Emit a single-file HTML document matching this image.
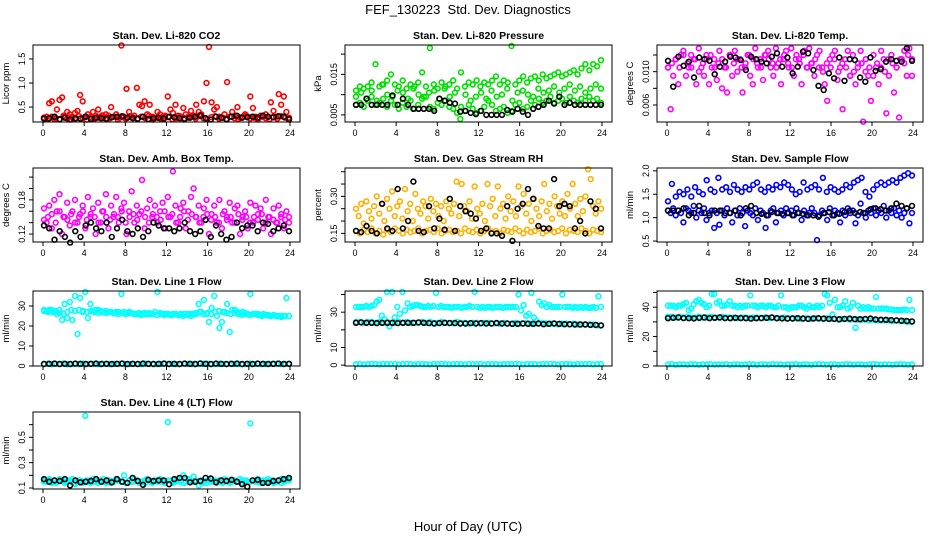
<!DOCTYPE html>
<html><head><meta charset="utf-8"><style>
html,body{margin:0;padding:0;background:#fff;}
svg{display:block;font-family:"Liberation Sans",Arial,sans-serif;}
</style></head><body>
<svg id="chart" width="936" height="540" viewBox="0 0 936 540">
<rect x="0" y="0" width="936" height="540" fill="#fff"/>
<text x="468" y="14" text-anchor="middle" font-size="13">FEF_130223&#160; Std. Dev. Diagnostics</text>
<text x="468" y="531" text-anchor="middle" font-size="13">Hour of Day (UTC)</text>
</svg>
<script>
const xTicks=[0,4,8,12,16,20,24];
const xTickLabels=["0","4","8","12","16","20","24"];
// Panel 1 CO2
const co2Red=[0.28,0.3,0.58,0.62,0.25,0.45,0.65,0.7,0.3,0.4,0.35,0.28,0.38,0.42,0.75,0.62,0.3,0.35,0.28,0.4,0.32,0.45,0.3,0.28,0.35,0.32,0.5,0.3,0.35,0.28,1.78,0.3,0.88,0.4,0.3,0.32,0.9,0.55,0.52,0.62,0.35,0.55,0.3,0.28,0.4,0.35,0.3,0.32,0.72,0.45,0.38,0.55,0.32,0.3,0.48,0.35,0.3,0.42,0.32,0.55,0.4,0.35,0.62,1.0,1.75,0.6,0.45,0.5,0.3,0.28,0.35,1.02,0.3,0.4,0.32,0.5,0.28,0.3,0.35,0.3,0.72,0.48,0.3,0.28,0.32,0.3,0.35,0.3,0.6,0.42,0.3,0.77,0.55,0.72,0.4,0.28];
const co2RedBand=[0.28,0.25,0.3,0.27,0.24,0.32,0.26,0.29,0.25,0.31,0.27,0.24,0.3,0.26,0.28,0.33,0.25,0.27,0.3,0.24,0.29,0.26,0.31,0.28,0.25,0.3,0.27,0.32,0.24,0.28,0.26,0.3,0.29,0.25,0.27,0.31,0.24,0.28,0.3,0.26,0.33,0.27,0.25,0.29,0.31,0.26,0.28,0.24,0.3,0.27,0.25,0.29,0.32,0.26,0.28,0.24,0.3,0.27,0.25,0.29,0.26,0.31,0.28,0.24];
const co2Black=[0.26,0.27,0.3,0.25,0.28,0.24,0.27,0.26,0.3,0.25,0.28,0.27,0.26,0.29,0.3,0.31,0.28,0.27,0.26,0.3,0.25,0.27,0.28,0.26,0.3,0.29,0.27,0.26,0.28,0.3,0.32,0.27,0.24,0.3,0.28,0.25,0.3,0.32,0.28,0.29,0.3,0.28,0.32,0.3,0.29,0.31,0.3,0.25];
// Panel 2 Pressure
const presUpper=[0.011,0.012,0.0115,0.012,0.013,0.0175,0.012,0.0125,0.0135,0.015,0.0125,0.012,0.0135,0.0115,0.0125,0.012,0.013,0.0155,0.012,0.0215,0.0125,0.0115,0.013,0.012,0.0125,0.0135,0.0115,0.0155,0.012,0.013,0.0125,0.0135,0.012,0.013,0.0125,0.0135,0.0145,0.0125,0.0135,0.013,0.022,0.0125,0.0135,0.0145,0.013,0.014,0.0145,0.0135,0.015,0.014,0.0145,0.015,0.0155,0.0145,0.015,0.0155,0.016,0.015,0.0165,0.0175,0.016,0.0175,0.017,0.0185];
const presLower=[0.0075,0.008,0.007,0.0085,0.0095,0.0075,0.008,0.009,0.007,0.0085,0.0075,0.0065,0.008,0.007,0.0085,0.0065,0.0075,0.009,0.0095,0.007,0.0065,0.008,0.0075,0.0085,0.007,0.0065,0.0055,0.007,0.006,0.0075,0.0065,0.0055,0.006,0.007,0.0085,0.0075,0.006,0.0065,0.007,0.0055,0.006,0.0075,0.008,0.0065,0.007,0.0085,0.0075,0.009,0.008,0.0085,0.0095,0.008,0.0085,0.009,0.008,0.0095,0.0085,0.008,0.009,0.0085,0.0095,0.0085,0.009,0.008];
const presMid=[0.0095,0.0105,0.009,0.011,0.0085,0.0125,0.01,0.0095,0.011,0.0105,0.009,0.0115,0.01,0.0095,0.0105,0.011,0.009,0.0115,0.0095,0.0105,0.004,0.01,0.0085,0.0095,0.0105,0.009,0.011,0.0095,0.01,0.0115,0.0085,0.0105,0.011,0.01,0.0095,0.0115,0.0105,0.011,0.012,0.0105,0.0115,0.0125,0.011,0.012,0.0105,0.0115,0.0125,0.0115];
const presBlack=[0.0075,0.0075,0.009,0.0075,0.0075,0.0075,0.0075,0.0098,0.0075,0.009,0.0075,0.0065,0.0065,0.0065,0.0065,0.006,0.009,0.0085,0.008,0.0078,0.0058,0.006,0.0055,0.0052,0.006,0.005,0.005,0.005,0.005,0.0062,0.0058,0.0065,0.0058,0.005,0.0065,0.007,0.0075,0.0085,0.0078,0.0095,0.0075,0.008,0.0075,0.0075,0.0075,0.0075,0.0075,0.0075];
// Panel 3 Li-820 Temp
const tempMag=[0.0105,0.0055,0.0095,0.0115,0.0085,0.012,0.0125,0.0095,0.0105,0.012,0.0115,0.0085,0.0128,0.0105,0.0095,0.012,0.0085,0.0105,0.0115,0.009,0.0125,0.008,0.0105,0.0075,0.012,0.0095,0.0125,0.01,0.0115,0.0075,0.0105,0.012,0.0095,0.0085,0.0128,0.0105,0.0115,0.009,0.012,0.0125,0.0105,0.0095,0.0128,0.011,0.0085,0.0115,0.0125,0.0105,0.0128,0.0095,0.012,0.0115,0.0085,0.0125,0.0105,0.0128,0.011,0.0095,0.012,0.0125,0.0105,0.0085,0.0065,0.0115,0.012,0.0125,0.009,0.0105,0.0055,0.0115,0.0125,0.0095,0.012,0.0085,0.011,0.0125,0.004,0.0115,0.0095,0.0065,0.012,0.0105,0.0085,0.0125,0.0115,0.005,0.0095,0.012,0.0075,0.0105,0.0045,0.0115,0.0125,0.0095,0.0128,0.0095];
const tempMagBand=[0.0105,0.011,0.0115,0.0105,0.012,0.011,0.0105,0.0115,0.01,0.011,0.0115,0.012,0.0105,0.011,0.0115,0.0105,0.012,0.011,0.0115,0.0105,0.011,0.012,0.0115,0.011,0.0105,0.012,0.0115,0.011,0.0105,0.0115,0.012,0.011,0.0105,0.0115,0.011,0.012,0.0105,0.011,0.0115,0.0105,0.01,0.011,0.0105,0.0115,0.01,0.011,0.0105,0.0095,0.01,0.0105,0.011,0.01,0.0105,0.0095,0.011,0.0105,0.01,0.0115,0.011,0.0105,0.0115,0.011,0.012,0.0115];
const tempBlack=[0.0113,0.0082,0.0118,0.0107,0.0112,0.0093,0.0117,0.0115,0.0113,0.0097,0.0106,0.0112,0.0118,0.0117,0.0114,0.0102,0.0118,0.0115,0.0112,0.011,0.0118,0.0122,0.0106,0.0117,0.0098,0.0106,0.0124,0.0122,0.0102,0.0083,0.0078,0.0098,0.0092,0.0117,0.0089,0.0115,0.0114,0.0093,0.0088,0.0117,0.0101,0.0103,0.0112,0.0115,0.0113,0.0112,0.0128,0.0113];
// Panel 4 Amb Box Temp
const ambMag=[0.165,0.14,0.17,0.13,0.18,0.16,0.19,0.12,0.15,0.175,0.135,0.16,0.18,0.14,0.155,0.17,0.13,0.185,0.15,0.165,0.12,0.175,0.14,0.16,0.19,0.13,0.17,0.15,0.185,0.14,0.165,0.175,0.12,0.16,0.195,0.14,0.17,0.155,0.215,0.13,0.165,0.18,0.15,0.17,0.14,0.16,0.175,0.13,0.185,0.15,0.23,0.17,0.14,0.165,0.175,0.13,0.16,0.185,0.2,0.15,0.17,0.14,0.165,0.18,0.12,0.155,0.17,0.14,0.18,0.13,0.16,0.15,0.175,0.14,0.165,0.17,0.12,0.15,0.16,0.13,0.175,0.14,0.17,0.155,0.165,0.13,0.18,0.15,0.12,0.165,0.14,0.17,0.155,0.13,0.16,0.15];
const ambMagBand=[0.145,0.15,0.155,0.14,0.16,0.15,0.145,0.155,0.14,0.15,0.16,0.145,0.155,0.15,0.14,0.16,0.15,0.145,0.155,0.15,0.16,0.14,0.15,0.155,0.145,0.16,0.15,0.14,0.155,0.15,0.145,0.16,0.15,0.155,0.14,0.15,0.16,0.145,0.155,0.15,0.14,0.15,0.155,0.145,0.15,0.14,0.155,0.145,0.15,0.14,0.155,0.145,0.15,0.14,0.15,0.145,0.155,0.14,0.15,0.145,0.14,0.15,0.145,0.14];
const ambBlack=[0.135,0.13,0.11,0.125,0.115,0.105,0.125,0.115,0.135,0.14,0.13,0.125,0.14,0.115,0.13,0.145,0.125,0.12,0.13,0.115,0.125,0.14,0.135,0.13,0.13,0.125,0.13,0.14,0.125,0.12,0.125,0.145,0.115,0.135,0.12,0.11,0.115,0.14,0.13,0.135,0.135,0.125,0.14,0.138,0.125,0.13,0.135,0.125];
// Panel 5 Gas Stream RH
const rhLower=[0.16,0.15,0.165,0.155,0.17,0.15,0.16,0.145,0.165,0.155,0.17,0.16,0.15,0.165,0.155,0.16,0.17,0.15,0.16,0.165,0.155,0.17,0.15,0.16,0.165,0.155,0.16,0.15,0.17,0.16,0.155,0.165,0.15,0.16,0.17,0.155,0.16,0.15,0.165,0.16,0.155,0.17,0.16,0.15,0.165,0.155,0.16,0.17,0.15,0.16,0.165,0.155,0.16,0.17,0.15,0.165,0.16,0.155,0.17,0.16,0.15,0.165,0.16,0.155];
const rhScatter=[0.25,0.22,0.27,0.19,0.28,0.24,0.21,0.26,0.3,0.23,0.27,0.2,0.29,0.25,0.32,0.22,0.26,0.28,0.21,0.33,0.24,0.27,0.2,0.31,0.25,0.23,0.28,0.26,0.21,0.29,0.24,0.27,0.22,0.26,0.2,0.28,0.25,0.23,0.27,0.36,0.22,0.35,0.26,0.24,0.28,0.21,0.34,0.25,0.23,0.27,0.2,0.35,0.26,0.29,0.22,0.34,0.25,0.27,0.21,0.3,0.24,0.28,0.22,0.34,0.26,0.31,0.23,0.27,0.2,0.29,0.25,0.22,0.28,0.35,0.24,0.27,0.21,0.3,0.26,0.23,0.28,0.22,0.31,0.25,0.35,0.27,0.22,0.29,0.24,0.3,0.41,0.37,0.26,0.23,0.28,0.25];
const rhBlack=[0.16,0.155,0.18,0.16,0.15,0.27,0.17,0.16,0.33,0.17,0.2,0.36,0.16,0.155,0.26,0.17,0.21,0.165,0.29,0.16,0.26,0.24,0.23,0.21,0.16,0.17,0.15,0.15,0.14,0.26,0.12,0.25,0.27,0.33,0.29,0.18,0.17,0.17,0.37,0.26,0.27,0.26,0.17,0.2,0.15,0.28,0.25,0.17];
// Panel 6 Sample Flow
const sfUpper=[1.35,1.72,1.45,1.55,1.5,1.6,1.45,1.65,1.55,1.5,1.8,1.6,1.55,1.85,1.6,1.65,1.55,1.7,1.6,1.55,1.65,1.6,1.7,1.75,1.6,1.55,1.65,1.6,1.7,1.65,1.75,1.7,1.6,1.5,1.55,1.75,1.6,1.65,1.7,1.6,1.85,1.55,1.65,1.6,1.55,1.6,1.7,1.65,1.75,1.8,1.85,1.55,1.45,1.6,1.7,1.75,1.7,1.75,1.8,1.75,1.85,1.9,1.95,1.9];
const sfLower=[1.15,1.1,1.2,1.05,1.15,1.1,0.9,1.2,1.15,1.1,1.25,1.0,1.15,1.1,1.2,0.95,1.1,1.15,0.78,1.1,0.85,1.15,1.05,1.2,1.1,0.9,1.15,1.05,1.2,1.1,0.82,1.15,1.1,1.05,1.2,0.95,1.15,1.1,0.78,1.05,1.15,1.2,0.9,1.1,1.15,1.05,1.2,1.1,1.15,1.05,1.2,1.1,0.95,1.15,1.05,1.1,1.2,1.1,0.52,1.05,1.15,1.1,0.95,1.2,1.05,1.15,1.1,0.9,1.15,1.05,1.2,1.1,1.15,0.88,1.05,1.3,1.1,1.0,1.15,1.1,1.2,1.05,1.15,1.1,1.25,1.0,1.15,1.1,1.2,1.05,1.15,1.0,1.1,1.2,0.88,1.1];
const sfBlack=[1.15,1.15,1.15,1.2,1.05,1.1,1.25,1.1,1.05,1.15,1.15,1.1,1.1,1.15,1.05,1.2,1.25,1.1,1.08,1.05,1.12,1.1,1.08,1.1,1.05,1.1,1.08,1.05,1.05,1.02,1.1,1.12,1.05,1.08,1.12,1.15,1.1,1.12,1.1,1.18,1.2,1.18,1.15,1.2,1.3,1.25,1.2,1.25];
// Panel 7 Line 1
const l1Main=[28,27.5,28,27,27,26,28,23,31,24,32,23,35,16,34,27,37,24,31,27.5,28,28,27.5,27,27.5,27,27,26.5,27,27,36,27,26.5,27,26.5,26,26,26.5,26,26.5,26,26,26,27,37,26.5,26,26,26,25.5,26,26,25.5,26,25,26,26,25,26,26,31,27,33,26,22,29,35,25,19,22,27,31,17,28,28,27,26.5,27,26.5,26,36,26,26,26,25.5,26,25.5,25.5,25,25.5,25,25,25,25,34,25];
const l1Band=[27.5,27,28,27.5,26.5,26,27,28,27.5,28,27.5,27,27.5,27,26.5,27,26.5,27,26.5,26,26.5,26,26.5,26,26,25.5,26,26.5,26,25.5,26,25.5,26,25.5,26,25.5,26,25.5,26,26.5,27,26,26.5,26,27,27.5,27,26.5,26,26.5,26,25.5,26,25.5,26,25.5,25,25.5,25,25.5,25,24.5,25,25];
const l1Zero=[1,1.2,0.9,1.1,1,1.3,0.8,1,1.1,0.9,1.2,1,1,1.1,0.9,1.2,1,0.9,1.1,1,1.2,0.9,1,1.1,1,0.9,1.2,1,1.1,0.9,1,1.2,1,1.1,0.9,1,1.2,1.1,1,0.9,1.1,1,1.2,0.9,1,1.1,1,0.9,1.2,1,1.1,0.9,1,1.2,1,1.1,0.9,1,1.1,1,1.2,0.9,1,1.1];
const l1Black=[1,1.1,1.2,1,1.1,1,1.2,1.1,1,1.1,1.2,1,1.1,1,1.1,1.2,1,1.1,1,1.2,1.1,1,1.1,1.2,1,1.1,1,1.2,1.1,1,1.3,1.1,1,1.2,1.1,1,1.1,1.2,1,1.1,1,1.2,1.1,1,1.1,1.2,1,1.1];
// Panel 8 Line 2
const l2Upper=[33,33,33,33,33.5,33,33.5,34,36,37,28,26,41.5,22,41.5,27,33,29,41.5,31,35,33,33.5,34,34,33.5,33,33,33.5,33,33.5,41,33,33.5,33,33,33,32.5,33,33,33,32.5,33,33,33.5,33,41.5,33,32.5,33,32.5,33,33,32.5,33,33,33,32.5,33,33,33,33,33,40,31,34,28,29,41,27,25,36,34,35,33,34,33,33,33,33,40,33,33,33,32.5,33,32.5,33,32.5,33,32.5,32.5,33,32.5,39,33];
const l2Mid=[24.5,24.5,24,24.5,24.5,24,24.5,24,24.5,24,24,24.5,24,24.5,24,24,24,24.5,24,24.5,24,24,24.5,24,24,24,24.5,24,24,23.5,24,24,23.5,24,24,23.5,24,23.5,24,23.5,23.5,24,23.5,23.5,24,23.5,23.5,23.5,24,23.5,23.5,23.5,23,23.5,23.5,23,23.5,23,23,23,23,23,22.5,22.5];
const l2Zero=[0.5,0.6,0.4,0.5,0.7,0.5,0.4,0.6,0.5,0.5,0.6,0.4,0.5,0.7,0.5,0.4,0.6,0.5,0.5,0.4,0.6,0.5,0.7,0.5,0.4,0.5,0.6,0.5,0.4,0.6,0.5,0.5,0.7,0.4,0.5,0.6,0.5,0.4,0.5,0.6,0.5,0.7,0.5,0.4,0.6,0.5,0.5,0.4,0.6,0.5,0.7,0.5,0.4,0.5,0.6,0.5,0.4,0.6,0.5,0.5,0.7,0.4,0.5,0.6];
const l2Black=[24,24.2,24,24,23.8,24,24,24,23.8,24,24,24,24.2,24,23.8,23.6,23.8,24,23.8,23.8,23.6,23.6,23.8,23.6,23.8,23.6,23.6,23.8,23.6,23.6,23.4,23.4,23.6,23.4,23.4,23.6,23.2,23.4,23.6,23.4,23.2,23.2,23,23,23,22.8,22.8,22.5];
// Panel 9 Line 3
const l3Upper=[41,41,41,40,41,41,42,43,38,39,42,44,45,43,42,40,41,49,49,43,44,41,41,42,44,41,41,40,41,40,41,41,48,41,41,40,41,41,40,41,41,40,40,41,48,40,40,39,40,40,40,41,41,40,39,41,40,40,41,40,41,49,48,43,35,45,40,40,41,44,39,40,43,26,41,39,40,39,40,39,39,47,39,39,39,39,38.5,38.5,38,38,38,38,38.5,38,45,38];
const l3Mid=[33.5,33.5,33,33.5,33,33.5,33,33,33.5,33,33,33.5,33,33,33.5,33,33,33,32.5,33,33,32.5,33,33,32.5,33,32.5,33,32.5,32.5,33,32.5,32.5,32.5,32,32.5,32.5,32,32.5,32,32,32.5,32,32,31.5,32,32,31.5,32,31.5,31.5,31.5,31,31.5,31,31,31,31,30.5,31,30.5,30.5,30,30];
const l3Zero=[1,1.2,0.8,1,1.1,0.9,1.2,1,0.8,1,1.1,1.2,0.9,1,1,1.2,0.8,1,1.1,0.9,1,1.2,1,0.8,1.1,1,0.9,1.2,1,1,0.8,1.1,1,1.2,0.9,1,1,0.8,1.1,1.2,1,0.9,1,1.1,0.8,1,1.2,1,0.9,1.1,1,0.8,1,1.2,1,0.9,1.1,1,0.8,1,1.2,1,0.9,1];
const l3Black=[32.5,32.8,33,32.6,32.5,32.4,32.7,33,32.5,32.8,33,32.6,32.5,32.8,32.6,32.5,32.2,32.5,32.6,32.8,33,32.5,32.4,32.2,32.3,32.5,32.2,32,32.3,32.5,32.2,32,32,31.8,32,32.2,31.8,31.8,32,32.2,31.6,31.5,31.4,31.2,31,30.8,30.6,30.3];
// Panel 10 Line 4
const l4Main=[0.16,0.15,0.17,0.14,0.16,0.15,0.17,0.16,0.14,0.15,0.16,0.17,0.13,0.15,0.16,0.14,0.67,0.15,0.16,0.17,0.15,0.14,0.16,0.17,0.15,0.16,0.14,0.15,0.17,0.16,0.15,0.2,0.14,0.16,0.15,0.17,0.16,0.14,0.15,0.16,0.17,0.15,0.14,0.16,0.15,0.17,0.16,0.15,0.62,0.16,0.14,0.15,0.17,0.16,0.2,0.15,0.17,0.16,0.19,0.15,0.12,0.16,0.15,0.14,0.16,0.17,0.15,0.14,0.16,0.15,0.17,0.16,0.14,0.15,0.16,0.15,0.17,0.16,0.14,0.15,0.61,0.16,0.15,0.17,0.14,0.16,0.15,0.17,0.16,0.14,0.15,0.16,0.17,0.15,0.16,0.17];
const l4Band=[0.15,0.16,0.15,0.14,0.16,0.15,0.16,0.15,0.14,0.16,0.15,0.16,0.14,0.15,0.16,0.15,0.14,0.16,0.15,0.16,0.15,0.14,0.16,0.15,0.16,0.15,0.14,0.16,0.15,0.16,0.15,0.14,0.16,0.15,0.16,0.15,0.14,0.16,0.15,0.16,0.15,0.14,0.16,0.15,0.16,0.15,0.14,0.16,0.15,0.16,0.15,0.14,0.16,0.15,0.16,0.15,0.14,0.16,0.15,0.16,0.15,0.14,0.16,0.16];
const l4Black=[0.17,0.15,0.16,0.155,0.17,0.12,0.16,0.145,0.15,0.155,0.17,0.15,0.16,0.145,0.17,0.15,0.14,0.18,0.155,0.125,0.165,0.155,0.16,0.16,0.13,0.17,0.18,0.18,0.145,0.15,0.155,0.18,0.175,0.145,0.16,0.155,0.165,0.15,0.13,0.11,0.16,0.165,0.14,0.14,0.155,0.16,0.17,0.18];

const colLeft=[33,345,657], colRight=[300,612,923];
const rowTop=[45,168,291,412], rowBottom=[122,242,366,489];
const RED="#ff0000",GRN="#00e000",MAG="#ff00ff",BLU="#0000ff",CYN="#00ffff",ORG="#ffb000",BLK="#000000";
const panels=[
 {name:"co2",title:"Stan. Dev. Li-820 CO2",ylab:"Licor ppm",r:0,c:0,dom:[0.19,1.79],ticks:[0.5,1.0,1.5],labels:["0.5","1.0","1.5"],series:[[co2RedBand,RED],[co2Red,RED],[co2Black,BLK]]},
 {name:"pressure",title:"Stan. Dev. Li-820 Pressure",ylab:"kPa",r:0,c:1,dom:[0.00325,0.02225],ticks:[0.005,0.010,0.015,0.020],labels:["0.005","","0.015",""],series:[[presLower,GRN],[presMid,GRN],[presUpper,GRN],[presBlack,BLK]]},
 {name:"li820-temp",title:"Stan. Dev. Li-820 Temp.",ylab:"degrees C",r:0,c:2,dom:[0.00396,0.0132],ticks:[0.006,0.008,0.010,0.012],labels:["0.006","","0.010",""],series:[[tempMagBand,MAG],[tempMag,MAG],[tempBlack,BLK]]},
 {name:"amb-box-temp",title:"Stan. Dev. Amb. Box Temp.",ylab:"degrees C",r:1,c:0,dom:[0.106,0.236],ticks:[0.12,0.14,0.16,0.18,0.20,0.22],labels:["0.12","","","0.18","",""],series:[[ambMagBand,MAG],[ambMag,MAG],[ambBlack,BLK]]},
 {name:"gas-stream-rh",title:"Stan. Dev. Gas Stream RH",ylab:"percent",r:1,c:1,dom:[0.115,0.415],ticks:[0.15,0.20,0.25,0.30,0.35,0.40],labels:["0.15","","","0.30","",""],series:[[rhLower,ORG],[rhScatter,ORG],[rhBlack,BLK]]},
 {name:"sample-flow",title:"Stan. Dev. Sample Flow",ylab:"ml/min",r:1,c:2,dom:[0.48,2.06],ticks:[0.5,1.0,1.5,2.0],labels:["0.5","1.0","1.5","2.0"],series:[[sfLower,BLU],[sfUpper,BLU],[sfBlack,BLK]]},
 {name:"line1-flow",title:"Stan. Dev. Line 1 Flow",ylab:"ml/min",r:2,c:0,dom:[0,37.5],ticks:[0,10,20,30],labels:["0","10","20","30"],series:[[l1Zero,CYN],[l1Band,CYN],[l1Main,CYN],[l1Black,BLK]]},
 {name:"line2-flow",title:"Stan. Dev. Line 2 Flow",ylab:"ml/min",r:2,c:1,dom:[-0.5,42],ticks:[0,10,20,30,40],labels:["0","10","","30",""],series:[[l2Zero,CYN],[l2Mid,CYN],[l2Upper,CYN],[l2Black,BLK]]},
 {name:"line3-flow",title:"Stan. Dev. Line 3 Flow",ylab:"ml/min",r:2,c:2,dom:[0,51],ticks:[0,10,20,30,40,50],labels:["0","","20","","40",""],series:[[l3Zero,CYN],[l3Mid,CYN],[l3Upper,CYN],[l3Black,BLK]]},
 {name:"line4-flow",title:"Stan. Dev. Line 4 (LT) Flow",ylab:"ml/min",r:3,c:0,dom:[0.092,0.70],ticks:[0.1,0.2,0.3,0.4,0.5,0.6],labels:["0.1","","0.3","","0.5",""],series:[[l4Band,CYN],[l4Main,CYN],[l4Black,BLK]]}
];
const NS="http://www.w3.org/2000/svg";
const svg=document.getElementById("chart");
function mk(tag,attrs,parent){const e=document.createElementNS(NS,tag);for(const k in attrs)e.setAttribute(k,attrs[k]);parent.appendChild(e);return e;}
panels.forEach(p=>{
 const L=colLeft[p.c],R=colRight[p.c],T=rowTop[p.r],B=rowBottom[p.r];
 const x0=L+10,x1=R-10;
 const xs=h=>x0+(x1-x0)*h/24;
 const ys=v=>B-(B-T)*(v-p.dom[0])/(p.dom[1]-p.dom[0]);
 const g=mk("g",{},svg);
 
 
 const t=mk("text",{x:(L+R)/2,y:T-6,"text-anchor":"middle","font-size":"10.5","font-weight":"bold"},g);
 t.textContent=p.title;
 
 
 const yl=mk("text",{x:0,y:0,"text-anchor":"middle","font-size":"9.5",transform:`translate(${L-24},${(T+B)/2}) rotate(-90)`},g);
 yl.textContent=p.ylab;
 
 
 const mg=mk("g",{fill:"none","stroke-width":"1.6"},g);
 
 
 p.series.forEach(([arr,col])=>{
  const n=arr.length;
  arr.forEach((v,i)=>{
   const h=0.1+23.8*i/(n-1);
   const c=mk("circle",{cx:xs(h).toFixed(1),cy:ys(v).toFixed(1),r:"2.4",stroke:col},mg);
   
   
  });
 });
 const box=mk("rect",{x:L,y:T,width:R-L,height:B-T,fill:"none",stroke:"#000","stroke-width":"1"},g);
 
 
 p.ticks.forEach((v,i)=>{
  const y=ys(v);
  mk("line",{x1:L-4,x2:L,y1:y,y2:y,stroke:"#000"},g);
  if(p.labels[i]){
   const tl=mk("text",{x:0,y:0,"text-anchor":"middle","font-size":"9",transform:`translate(${L-8},${y}) rotate(-90)`},g);
   tl.textContent=p.labels[i];
   
   
  }
 });
 xTicks.forEach((h,i)=>{
  const x=xs(h);
  mk("line",{x1:x,x2:x,y1:B,y2:B+4,stroke:"#000"},g);
  const tl=mk("text",{x:x,y:B+14,"text-anchor":"middle","font-size":"9"},g);
  tl.textContent=xTickLabels[i];
  
  
 });
});
</script>
</body></html>
